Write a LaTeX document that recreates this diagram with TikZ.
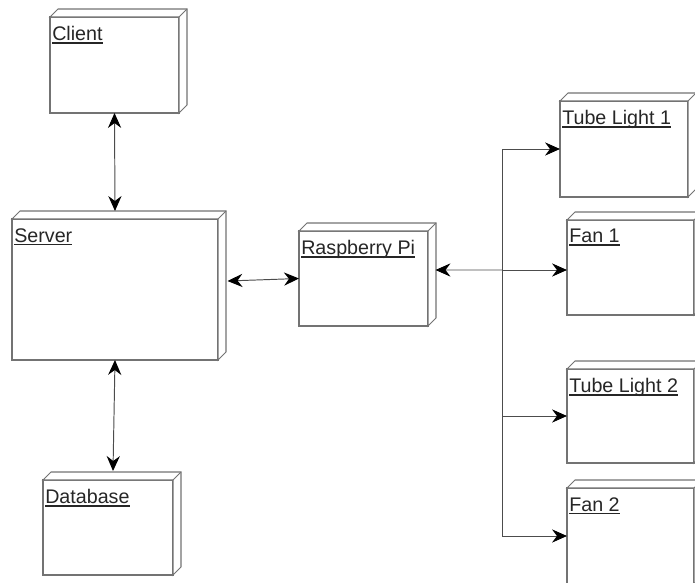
\documentclass[tikz,border=0pt]{standalone}
\usepackage{fontspec}
\setmainfont{Liberation Sans}
\usetikzlibrary{arrows.meta}
\newcommand\devname[1]{\setbox0\hbox{#1}\rlap{\rule[-1.7pt]{\wd0}{0.8pt}}\box0}
\begin{document}
\begin{tikzpicture}[>={Stealth[length=8.5pt,width=7.5pt,inset=2.8pt,color=black]},
device/.style={draw=black!55,line width=0.6pt,fill=white,inner sep=0pt,outer sep=0pt,minimum width=2.58cm,minimum height=1.92cm},
tag/.style={label={[anchor=north west,inner sep=0pt,xshift=1.1pt,yshift=-5.1pt,font=\fontsize{11.2}{13}\selectfont,text=black!85]north west:\devname{#1}}},
link/.style={draw=black!70,line width=0.55pt}]
\useasboundingbox (0,0) rectangle (13.9,-11.66);
\clip (0,0) rectangle (13.9,-11.66);
\node[device,tag=Client] (client) at (2.29,-1.30) {};
\node[device,tag=Server,minimum width=4.12cm,minimum height=2.82cm] (server) at (2.30,-5.79) {};
\node[device,tag=Raspberry Pi,minimum height=1.90cm] (rpi) at (7.27,-5.57) {};
\node[device,tag=Tube Light 1,minimum width=2.56cm] (tube1) at (12.48,-2.98) {};
\node[device,tag=Fan 1,minimum width=2.54cm,minimum height=1.90cm] (fan1) at (12.61,-5.35) {};
\node[device,tag=Tube Light 2,minimum width=2.54cm,minimum height=1.88cm] (tube2) at (12.61,-8.32) {};
\node[device,tag=Fan 2,minimum width=2.54cm] (fan2) at (12.61,-10.72) {};
\node[device,tag=Database,minimum width=2.60cm,minimum height=1.90cm] (db) at (2.16,-10.55) {};
\foreach \n in {client,server,rpi,tube1,fan1,tube2,fan2,db}{
\draw[draw=black!55,line width=0.6pt,fill=white] (\n.north west) -- ++(.16,.16) -- ([shift={(.16,.16)}]\n.north east)
-- ([shift={(.16,.16)}]\n.south east) -- (\n.south east) -- (\n.north east) -- cycle;
\draw[draw=black!55,line width=0.6pt] (\n.north east) -- ++(.16,.16);
}
\draw[link,<->] (client.south) -- ([yshift=.16cm]server.north);
\draw[link,<->] (server.south) -- ([xshift=.1cm,yshift=.18cm]db.north);
\draw[link,<->] ([xshift=.19cm,yshift=.17cm]server.east) -- (rpi.west);
\coordinate (bus) at (10.04,-5.40);
\draw[link,->] (bus) -- ([xshift=.15cm,yshift=.17cm]rpi.east);
\draw[link,->] (bus) -- (bus -| fan1.west);
\draw[link,->] (bus) |- (tube1.west);
\draw[link,->] (bus) |- (tube2.west);
\draw[link,->] (bus) |- (fan2.west);
\end{tikzpicture}
\end{document}
